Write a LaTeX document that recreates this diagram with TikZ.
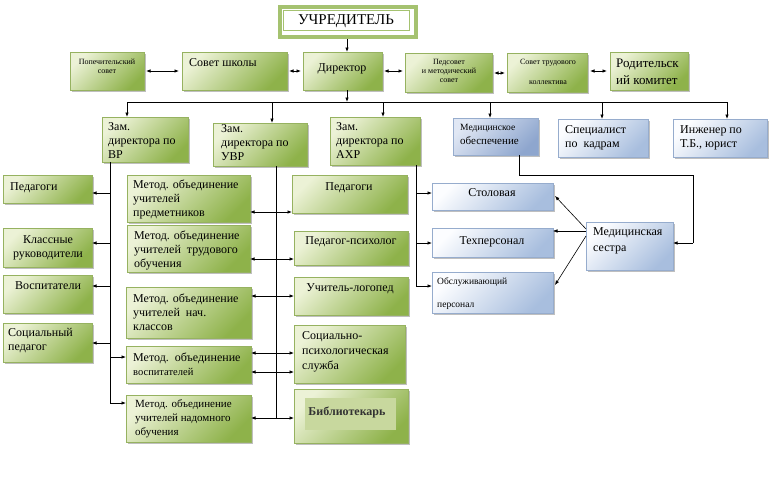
\documentclass[tikz,border=0pt]{standalone}
\usepackage{fontspec}
\setmainfont{Liberation Serif}
\usetikzlibrary{arrows.meta,shadows}
\definecolor{gl}{RGB}{236,242,214}
\definecolor{gd}{RGB}{142,178,74}
\definecolor{gb}{RGB}{150,178,96}
\definecolor{bl}{RGB}{252,253,255}
\definecolor{bd}{RGB}{168,190,222}
\definecolor{bb}{RGB}{150,172,205}
\definecolor{ml}{RGB}{224,231,244}
\definecolor{md}{RGB}{142,166,206}
\definecolor{uc}{RGB}{165,194,112}
\definecolor{libin}{RGB}{200,216,158}
\tikzset{
  base/.style={rectangle, inner sep=0pt, outer sep=0pt, anchor=north west,
    drop shadow={shadow xshift=2pt, shadow yshift=-2pt, opacity=0.45, fill=black!55}},
  gbox/.style={base, draw=gb, line width=0.4pt, top color=gl, bottom color=gd, shading angle=45},
  bbox/.style={base, draw=bb, line width=0.4pt, top color=bl, bottom color=bd, shading angle=45},
  mbox/.style={base, draw=bb, line width=0.4pt, top color=ml, bottom color=md, shading angle=45},
  txt/.style={inner sep=0pt, align=left, font=\fontsize{12}{14}\selectfont},
  ctxt/.style={txt, align=center},
  small/.style={inner sep=0pt, align=center, font=\fontsize{8}{9}\selectfont},
  tip/.tip={Latex[length=4.5pt,width=3.6pt]},
  arr/.style={-tip, line width=0.8pt},
  dbl/.style={tip-tip, line width=0.8pt},
  ln/.style={line width=0.8pt},
}
\newcommand\mkbox[6]{%
  \pgfmathsetmacro\bxw{#5-#3}\pgfmathsetmacro\bxh{#6-#4}%
  \node[#1, minimum width=\bxw pt, minimum height=\bxh pt] (#2) at (#3,#4) {};}
\begin{document}
\begin{tikzpicture}[x=1pt,y=-1pt]
\useasboundingbox[fill=white] (0,0) rectangle (771,477);

% ---------- founder ----------
\node[draw=uc, line width=4pt, fill=white, inner sep=0pt, anchor=north west,
      minimum width=136pt, minimum height=30pt] (uch) at (278,5) {};
\draw[uc, line width=1pt] (283,10) rectangle (409,30);
\node[inner sep=0pt, font=\fontsize{15}{17}\selectfont] (uch-t) at (346,21) {УЧРЕДИТЕЛЬ};

% ---------- row 2 ----------
\mkbox{gbox}{pop}{70}{52}{144}{90}
\mkbox{gbox}{sov}{182}{52}{287}{90}
\mkbox{gbox}{dir}{303}{52}{382}{90}
\mkbox{gbox}{ped}{405}{53}{492}{92}
\mkbox{gbox}{trud}{507}{53}{587}{92}
\mkbox{gbox}{rod}{610}{52}{688}{90}

\node[small] (pop-t) at (107,66) {Попечительский\\совет};
\node[txt, anchor=west] (sov-t) at (189,63) {Совет школы};
\node[txt] (dir-t) at (342,69) {Директор};
\node[small] (ped-t) at (449,71) {Педсовет\\и методический\\совет};
\node[small] (trud-t) at (548,72) {Совет трудового\\[11pt]коллектива};
\node[txt, anchor=west, font=\fontsize{13}{17}\selectfont] (rod-t) at (616,71.5) {Родительск\\ий комитет};

\draw[dbl, shorten <=2pt, shorten >=3pt] (pop.east |- 0,71) -- (sov.west |- 0,71);
\draw[dbl, shorten <=2pt, shorten >=2pt] (sov.east |- 0,71) -- (dir.west |- 0,71);
\draw[dbl, shorten <=2pt, shorten >=2pt] (dir.east |- 0,71) -- (ped.west |- 0,71);
\draw[dbl, shorten <=2pt, shorten >=2pt] (ped.east |- 0,73) -- (trud.west |- 0,73);
\draw[dbl, shorten <=3pt, shorten >=3pt] (trud.east |- 0,71) -- (rod.west |- 0,71);

\draw[arr] (uch.south -| 347,0) -- (dir.north -| 347,0);

% ---------- row 3 ----------
\mkbox{gbox}{zvr}{102}{117}{188}{162}
\mkbox{gbox}{zuvr}{213}{123}{307}{166}
\mkbox{gbox}{zaxr}{330}{117}{420}{165}
\mkbox{mbox}{mob}{453}{118}{538}{155}
\mkbox{bbox}{spec}{558}{119}{648}{157}
\mkbox{bbox}{ing}{673}{119}{767}{157}

\node[txt, anchor=west] (zvr-t) at (108,141) {Зам.\\директора по\\ВР};
\node[txt, anchor=west] (zuvr-t) at (221,143) {Зам.\\директора по\\УВР};
\node[txt, anchor=west] (zaxr-t) at (336,141) {Зам.\\директора по\\АХР};
\node[txt, anchor=west] (mob-t) at (460,134) {{\fontsize{9.5}{11}\selectfont Медицинское}\\{\fontsize{11}{13}\selectfont обеспечение}};
\node[txt, anchor=west] (spec-t) at (565,138) {Специалист\\по~~кадрам};
\node[txt, anchor=west] (ing-t) at (680,138) {Инженер по\\Т.Б., юрист};

\coordinate (bus) at (347,102);
\coordinate (b1) at (127,102);
\coordinate (b2) at (272,102);
\coordinate (b3) at (383,102);
\coordinate (b4) at (490,102);
\coordinate (b5) at (602,102);
\coordinate (b6) at (727,102);
\draw[arr] (dir.south -| bus) -- (bus);
\draw[ln] (b1) -- (b6);
\draw[arr] (b1) -- (b1 |- zvr.north);
\draw[arr] (b2) -- (b2 |- zuvr.north);
\draw[arr] (b3) -- (b3 |- zaxr.north);
\draw[arr] (b4) -- (b4 |- mob.north);
\draw[arr] (b5) -- (b5 |- spec.north);
\draw[arr] (b6) -- (b6 |- ing.north);

% ---------- left column ----------
\mkbox{gbox}{lped}{3}{175}{92}{203}
\mkbox{gbox}{klass}{3}{228}{92}{267}
\mkbox{gbox}{vosp}{3}{275}{92}{313}
\mkbox{gbox}{soc}{3}{323}{92}{362}

\node[txt, anchor=west] (lped-t) at (10,188) {Педагоги};
\node[ctxt] (klass-t) at (48,248) {Классные\\руководители};
\node[ctxt] (vosp-t) at (48,286) {Воспитатели};
\node[txt, anchor=west] (soc-t) at (8,341) {Социальный\\педагог};

% ---------- method unions ----------
\mkbox{gbox}{mpred}{127}{175}{250}{222}
\mkbox{gbox}{mtrud}{127}{225}{250}{272}
\mkbox{gbox}{mnach}{126}{287}{251}{338}
\mkbox{gbox}{mvosp}{126}{346}{251}{383}
\mkbox{gbox}{mnad}{126}{395}{251}{442}

\node[txt, anchor=west] (mpred-t) at (133,199) {Метод. объединение\\учителей\\предметников};
\node[txt, anchor=west] (mtrud-t) at (134,250) {Метод. объединение\\учителей~~трудового\\обучения};
\node[txt, anchor=west] (mnach-t) at (133,312) {Метод. объединение\\учителей~~нач.\\классов};
\node[txt, anchor=west] (mvosp-t) at (133,364) {Метод.~~объединение\\{\fontsize{10.5}{12}\selectfont воспитателей}};
\node[txt, anchor=west, font=\fontsize{11}{14}\selectfont] (mnad-t) at (135,419) {Метод. объединение\\учителей надомного\\обучения};

% ---------- right green column ----------
\mkbox{gbox}{rped}{292}{175}{407}{213}
\mkbox{gbox}{psy}{294}{231}{408}{265}
\mkbox{gbox}{logo}{294}{277}{408}{315}
\mkbox{gbox}{sps}{294}{325}{405}{383}
\mkbox{gbox}{bib}{294}{389}{408}{443}
\fill[libin] (305,398) rectangle (396,430);

\node[ctxt] (rped-t) at (349,188) {Педагоги};
\node[ctxt] (psy-t) at (351,242) {Педагог-психолог};
\node[ctxt] (logo-t) at (350,289) {Учитель-логопед};
\node[txt, anchor=west, font=\fontsize{12}{15}\selectfont] (sps-t) at (302,352) {Социально-\\психологическая\\служба};
\node[ctxt, font=\fontsize{12}{14}\selectfont\bfseries, text=black!80] (bib-t) at (347,412) {Библиотекарь};

% ---------- blue right ----------
\mkbox{bbox}{stol}{432}{183}{553}{210}
\mkbox{bbox}{tech}{432}{228}{553}{257}
\mkbox{bbox}{obs}{432}{272}{553}{313}
\mkbox{bbox}{msis}{586}{222}{673}{270}

\node[ctxt] (stol-t) at (492,193) {Столовая};
\node[ctxt] (tech-t) at (492,242) {Техперсонал};
\node[txt, anchor=west, font=\fontsize{9.5}{23}\selectfont] (obs-t) at (437,293.5) {Обслуживающий\\персонал};
\node[txt, anchor=west, font=\fontsize{12}{16}\selectfont] (msis-t) at (593,241) {Медицинская\\сестра};

% ---------- VR spine ----------
\coordinate (vr) at (110,403);
\draw[ln] (zvr.south -| vr) -- (vr);
\draw[arr] (vr |- 0,193) -- (lped.east |- 0,193);
\draw[arr] (vr |- 0,243) -- (klass.east |- 0,243);
\draw[arr] (vr |- 0,286) -- (vosp.east |- 0,286);
\draw[arr] (vr |- 0,343) -- (soc.east |- 0,343);
\draw[arr] (vr |- 0,357) -- (mvosp.west |- 0,357);
\draw[arr] (vr) -- (mnad.west |- vr);

% ---------- UVR spine ----------
\coordinate (uvr) at (276,418);
\draw[ln] (zuvr.south -| uvr) -- (uvr);
\draw[dbl] (mpred.east |- 0,212) -- (rped.west |- 0,212);
\draw[dbl] (mtrud.east |- 0,259) -- (psy.west |- 0,259);
\draw[dbl] (mnach.east |- 0,296) -- (logo.west |- 0,296);
\draw[dbl] (mvosp.east |- 0,353) -- (sps.west |- 0,353);
\draw[dbl] (mvosp.east |- 0,372) -- (sps.west |- 0,372);
\draw[dbl] (mnad.east |- 0,418) -- (bib.west |- 0,418);

% ---------- AXR spine ----------
\coordinate (axr) at (416,286);
\draw[ln] (zaxr.south -| axr) -- (axr);
\draw[arr] (axr |- 0,193) -- (stol.west |- 0,193);
\draw[arr] (axr |- 0,243) -- (tech.west |- 0,243);
\draw[arr] (axr) -- (obs.west |- axr);

% ---------- medical ----------
\coordinate (m1) at (519,175);
\coordinate (m2) at (693,175);
\coordinate (m3) at (693,243);
\draw[ln] (mob.south -| m1) -- (m1) -- (m2) -- (m3);
\draw[arr] (m3) -- (msis.east |- m3);
\draw[arr, line width=0.6pt] (msis.west |- 0,229) -- (555,196);
\draw[arr, line width=0.6pt] (msis.west |- 0,231) -- (tech.east |- 0,231);
\draw[arr, line width=0.6pt] (msis.west |- 0,236) -- (555,285);
\end{tikzpicture}
\end{document}
